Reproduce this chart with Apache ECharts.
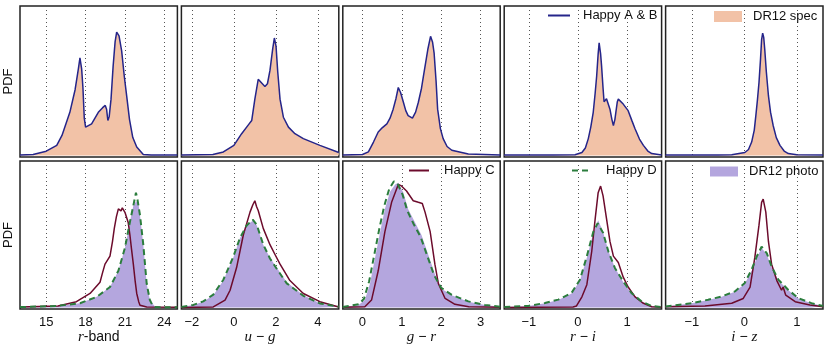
<!DOCTYPE html>
<html>
<head>
<meta charset="utf-8">
<script src="https://cdn.jsdelivr.net/npm/echarts@6/dist/echarts.min.js"></script>
<style>
html, body { margin: 0; padding: 0; background: #fff; }
#chart { width: 830px; height: 346px; }
</style>
</head>
<body>
<div id="chart"></div>
<script>
// x ranges and ticks of the five columns
const xMin = [13, -2.5, -0.5, -1.5, -1.5];
const xMax = [25, 5, 3.5, 1.7, 1.5];
const xTicks = [[15, 18, 21, 24], [-2, 0, 2, 4], [0, 1, 2, 3], [-1, 0, 1], [-1, 0, 1]];
const xNames = ['{i|r}-band', '{i|u} − {i|g}', '{i|g} − {i|r}', '{i|r} − {i|i}', '{i|i} − {i|z}'];

// top row: DR12 spec (filled), Happy A & B follows it
const specR = [[13,0.3],[14,0.7],[15,2.9],[15.8,6.8],[16.2,13.4],[16.8,28.9],[17.2,44],[17.45,58],[17.57,65.3],[17.7,58],[17.8,45],[17.9,25],[18.0,19],[18.1,17.9],[18.46,21.2],[18.97,28.9],[19.3,32],[19.5,33.5],[19.6,31],[19.7,23.4],[19.8,26],[19.94,37.7],[20.1,59.8],[20.25,76],[20.37,82.5],[20.55,80],[20.75,70],[20.95,53],[21.13,40],[21.35,24],[21.6,12],[21.9,5.7],[22.4,0.7],[23,0.3],[25,0.3]];
const specUG = [[-2.5,0.3],[-1,0.7],[-0.5,2.4],[0,6.8],[0.37,14.6],[0.69,20.5],[0.85,23.4],[1.0,37.7],[1.16,51],[1.24,52.1],[1.48,46.2],[1.6,48],[1.72,56.9],[1.85,71.3],[1.93,78.6],[2.01,73],[2.09,56],[2.2,37.7],[2.36,25.6],[2.6,19],[2.91,14.6],[3.31,11.3],[4.1,6.8],[5,2]];
const specGR = [[-0.5,0.3],[0,0.7],[0.15,2.4],[0.28,9],[0.4,15.7],[0.5,18.5],[0.62,21.2],[0.7,25],[0.78,31],[0.85,38],[0.91,45.5],[0.97,42],[1.04,35.6],[1.1,30],[1.16,26.7],[1.27,25],[1.35,29],[1.42,35.6],[1.5,45],[1.55,53.2],[1.66,70.9],[1.73,79.7],[1.78,76],[1.82,68.7],[1.87,50],[1.91,31],[1.98,18],[2.05,11.3],[2.15,6],[2.27,3.5],[2.69,1],[3.5,0.3]];
const specRI = [[-1.5,0.3],[-0.5,0.3],[-0.06,0.5],[0.08,2],[0.15,5],[0.21,11.3],[0.26,19],[0.31,28.9],[0.35,42],[0.38,53.2],[0.41,68],[0.43,75.3],[0.46,68],[0.48,59.8],[0.51,45],[0.53,36],[0.58,38],[0.62,37.7],[0.65,31],[0.69,24],[0.72,20.1],[0.75,24],[0.77,28.9],[0.8,36],[0.82,37.7],[0.92,34.4],[1.02,30],[1.1,23],[1.16,17.9],[1.25,11],[1.33,6.8],[1.42,3],[1.5,1.3],[1.7,0.3]];
const specIZ = [[-1.5,0.3],[-0.5,0.3],[-0.24,0.5],[0.01,2],[0.08,4],[0.14,9],[0.19,17],[0.22,26.7],[0.25,37],[0.28,48.8],[0.31,65],[0.33,77.5],[0.35,81.9],[0.37,79],[0.39,70.9],[0.42,56],[0.46,40],[0.5,29],[0.55,20.1],[0.61,12],[0.68,6.8],[0.76,3],[0.84,1.3],[1,0.5],[1.5,0.3]];
const happyAB = [specR, specUG, specGR, specRI, specIZ];

// bottom row: DR12 photo (filled), Happy C, Happy D
const photoR = [[13,0.3],[15.8,1.1],[17.57,2.9],[18.85,7.3],[19.86,14],[20.5,25.1],[21.0,40.7],[21.38,58.4],[21.64,69.5],[21.85,72.5],[21.95,72.9],[22.05,70],[22.15,62.9],[22.4,42.9],[22.66,16.2],[22.9,5.1],[23.3,0.5],[25,0.2]];
const happyDR = [[13,0.3],[15.8,1.1],[17.57,2.9],[18.85,7.3],[19.86,14],[20.5,25.1],[21.0,40.7],[21.38,58.4],[21.64,69.5],[21.84,78.4],[21.95,74],[22.15,62.9],[22.4,42.9],[22.66,16.2],[22.9,5.1],[23.1,1.5],[23.3,0.3],[25,0.2]];
const happyCR = [[13,0.3],[15.9,1],[17.3,4],[18.34,9.6],[19.1,17.3],[19.3,24],[19.48,29.6],[19.86,35.1],[20.05,45],[20.19,54],[20.35,62],[20.5,67.3],[20.7,66],[20.8,68],[20.93,68.4],[21.0,65],[21.13,64],[21.25,58],[21.38,49.5],[21.5,40],[21.64,29.6],[21.78,18],[21.9,9.6],[22.05,4],[22.15,1.6],[22.66,0.3],[25,0.2]];

const photoUG = [[-2.5,0.3],[-1.93,1.8],[-1.46,4],[-0.98,8.4],[-0.5,18.4],[-0.03,34],[0.29,47.3],[0.61,56.2],[0.93,59.5],[1.09,56.2],[1.4,42.9],[1.72,34],[2.04,27.3],[2.52,17.3],[3.31,8.4],[4.1,2.9],[5,0.5]];
const happyDUG = [[-2.5,0.3],[-1.93,1.8],[-1.46,4.2],[-0.98,8.8],[-0.5,19],[-0.03,34.5],[0.29,47.5],[0.61,56],[0.9,60],[1.09,56.5],[1.4,43],[1.72,33.5],[2.04,26.5],[2.52,16.5],[3.31,8],[4.1,2.8],[5,0.5]];
const happyCUG = [[-2.5,0],[-0.98,0.4],[-0.42,5.1],[-0.18,11.8],[0.13,27.3],[0.45,49.5],[0.77,65.1],[0.9,70],[1.0,72.9],[1.08,69],[1.16,66.2],[1.4,54],[1.72,42.9],[1.96,36.2],[2.2,29.6],[2.67,18.4],[3.31,9.6],[4.1,4],[5,0.3]];

const photoGR = [[-0.5,0.3],[-0.1,1.8],[0.06,5.1],[0.19,16.2],[0.32,34],[0.45,51.8],[0.57,67.3],[0.7,79],[0.83,84],[0.91,85.1],[1.04,78.4],[1.16,67.3],[1.33,58.4],[1.5,49.5],[1.67,36.2],[1.84,22.9],[2.01,12.9],[2.27,8.4],[2.69,4],[3.11,1.8],[3.5,0.5]];
const happyDGR = [[-0.5,0.3],[-0.1,2.2],[0.04,6],[0.17,18],[0.3,36],[0.43,54],[0.55,69],[0.68,81],[0.8,86.2],[0.9,84],[1.02,77],[1.14,66],[1.3,57],[1.48,48],[1.65,35],[1.82,22],[2.0,13.5],[2.27,8.6],[2.69,4.2],[3.11,1.8],[3.5,0.5]];
const happyCGR = [[-0.5,0.2],[0.06,0.5],[0.23,5.1],[0.4,25.1],[0.57,51.8],[0.74,71.8],[0.91,84],[0.99,83],[1.12,79.5],[1.29,72.9],[1.42,71.8],[1.52,71],[1.59,65.1],[1.72,51.8],[1.84,29.6],[1.93,16.2],[2.1,6.2],[2.35,2.2],[2.7,0.5],[3.5,0.2]];

const photoRI = [[-1.5,0.3],[-1.01,1],[-0.67,2.9],[-0.4,5.1],[-0.13,9.6],[0.04,18.4],[0.18,34],[0.31,50.7],[0.41,59.5],[0.51,51.8],[0.62,38.4],[0.75,27.3],[0.92,17.3],[1.09,9.6],[1.3,4],[1.5,1],[1.7,0.3]];
const happyDRI = [[-1.5,0.3],[-1.01,1.1],[-0.67,3.1],[-0.4,5.4],[-0.13,10],[0.04,19],[0.18,35],[0.31,51.5],[0.4,57.5],[0.51,51],[0.62,38],[0.75,27],[0.92,17.8],[1.09,9.8],[1.3,4],[1.5,1],[1.7,0.3]];
const happyCRI = [[-1.5,0],[-0.1,0.4],[-0.03,1.1],[0.08,7.3],[0.18,15.6],[0.28,38.4],[0.35,60.7],[0.41,78.4],[0.46,82.9],[0.51,76.2],[0.58,60.7],[0.65,45.1],[0.72,35.1],[0.82,30.7],[0.92,20.7],[1.02,14],[1.16,7.3],[1.33,2.9],[1.5,0.5],[1.7,0.2]];

const photoIZ = [[-1.5,0.7],[-1.0,2.9],[-0.69,5.1],[-0.43,7.3],[-0.18,10.7],[0.01,16.2],[0.14,25.1],[0.24,34],[0.33,40.7],[0.43,36.2],[0.52,27.3],[0.65,18.4],[0.84,11.8],[1.03,6.2],[1.28,2.9],[1.5,1]];
const happyDIZ = [[-1.5,0.7],[-1.0,3],[-0.69,5.3],[-0.43,7.6],[-0.18,11],[0.01,16.8],[0.14,26],[0.24,35],[0.33,41.5],[0.43,37],[0.52,28],[0.65,19],[0.84,12],[1.03,6.4],[1.28,3],[1.5,1]];
const happyCIZ = [[-1.5,0.5],[-0.75,1],[-0.24,2.9],[-0.02,6.2],[0.11,14],[0.2,34],[0.28,56.2],[0.33,71.8],[0.36,74],[0.41,65.1],[0.46,45.1],[0.52,29.6],[0.62,18.4],[0.71,11.8],[0.74,14],[0.79,8.4],[0.97,4],[1.25,1.8],[1.5,0.5]];

const photo = [photoR, photoUG, photoGR, photoRI, photoIZ];
const happyC = [happyCR, happyCUG, happyCGR, happyCRI, happyCIZ];
const happyD = [happyDR, happyDUG, happyDGR, happyDRI, happyDIZ];
const spec = [specR, specUG, specGR, specRI, specIZ];

const PEACH = '#f2c2a7', NAVY = '#25258a', LAVENDER = '#b4a6de', MAROON = '#6c0b2c', GREEN = '#2b7d3d';
const FONT = 'Liberation Sans';

const myChart = echarts.init(document.getElementById('chart'));

const grids = [], xAxes = [], yAxes = [], series = [];
const fmt = v => (v < 0 ? '−' + (-v) : '' + v);

for (let row = 0; row < 2; row++) {
    for (let i = 0; i < 5; i++) {
        const g = row * 5 + i;
        grids.push({
            left: 20 + i * 161.4, width: 157.4,
            top: row === 0 ? 6 : 161, height: row === 0 ? 151 : 150,
            show: true, borderColor: '#222', borderWidth: 1.5
        });
        xAxes.push({
            type: 'value', gridIndex: g, min: xMin[i], max: xMax[i],
            axisLine: { show: false },
            axisTick: { show: false, customValues: xTicks[i] },
            axisLabel: {
                show: row === 1, customValues: xTicks[i], formatter: fmt, margin: 7,
                fontFamily: FONT, fontSize: 13, color: '#111'
            },
            splitLine: { show: true, lineStyle: { type: [1, 3], color: '#555', width: 1 } },
            name: row === 1 ? xNames[i] : '',
            nameLocation: 'middle', nameGap: 21,
            nameTextStyle: {
                fontFamily: FONT, fontSize: 14, color: '#111',
                rich: { i: { fontFamily: 'Liberation Serif', fontStyle: 'italic', fontSize: 15, color: '#111' } }
            }
        });
        yAxes.push({
            type: 'value', gridIndex: g, min: -1, max: 100,
            axisLine: { show: false }, axisTick: { show: false },
            axisLabel: { show: false }, splitLine: { show: false },
            name: i === 0 ? 'PDF' : '', nameLocation: 'middle', nameGap: 5,
            nameTextStyle: { fontFamily: FONT, fontSize: 13, color: '#111' }
        });
    }
}

for (let i = 0; i < 5; i++) {
    series.push({
        name: 'DR12 spec', type: 'line', xAxisIndex: i, yAxisIndex: i, data: spec[i],
        symbol: 'none', lineStyle: { width: 0 }, itemStyle: { color: PEACH },
        areaStyle: { color: PEACH, opacity: 1 }, z: 1
    });
    series.push({
        name: 'Happy A & B', type: 'line', xAxisIndex: i, yAxisIndex: i, data: happyAB[i],
        symbol: 'none', lineStyle: { color: NAVY, width: 1.5 }, itemStyle: { color: NAVY }, z: 3
    });
    series.push({
        name: 'DR12 photo', type: 'line', xAxisIndex: 5 + i, yAxisIndex: 5 + i, data: photo[i],
        symbol: 'none', lineStyle: { width: 0 }, itemStyle: { color: LAVENDER },
        areaStyle: { color: LAVENDER, opacity: 1 }, z: 1
    });
    series.push({
        name: 'Happy C', type: 'line', xAxisIndex: 5 + i, yAxisIndex: 5 + i, data: happyC[i],
        symbol: 'none', lineStyle: { color: MAROON, width: 1.5 }, itemStyle: { color: MAROON }, z: 3
    });
    series.push({
        name: 'Happy D', type: 'line', xAxisIndex: 5 + i, yAxisIndex: 5 + i, data: happyD[i],
        symbol: 'none', lineStyle: { color: GREEN, width: 2, type: [6, 4] }, itemStyle: { color: GREEN }, z: 4
    });
}

function legendAt(name, left, top, w, h, gap, icon) {
    const item = { name: name };
    if (icon) {
        item.icon = icon;
    } else {
        // line-only legend key, hide the symbol drawn on top of it
        item.itemStyle = { opacity: 0 };
    }
    return {
        data: [item], left: left, top: top, padding: 0,
        itemWidth: w, itemHeight: h, selectedMode: false,
        textStyle: { fontFamily: FONT, fontSize: 13, color: '#111', padding: [0, 0, 0, gap] }
    };
}

const option = {
    animation: false,
    grid: grids,
    xAxis: xAxes,
    yAxis: yAxes,
    legend: [
        legendAt('Happy A & B', 547, 9, 22, 14, 8),
        legendAt('DR12 spec', 714, 10, 28, 11, 6, 'rect'),
        legendAt('Happy C', 408, 164, 20, 14, 10),
        legendAt('Happy D', 571, 164, 19, 14, 10),
        legendAt('DR12 photo', 710, 165, 28, 10, 6, 'rect')
    ],
    series: series
};
option && myChart.setOption(option);
</script>
</body>
</html>
